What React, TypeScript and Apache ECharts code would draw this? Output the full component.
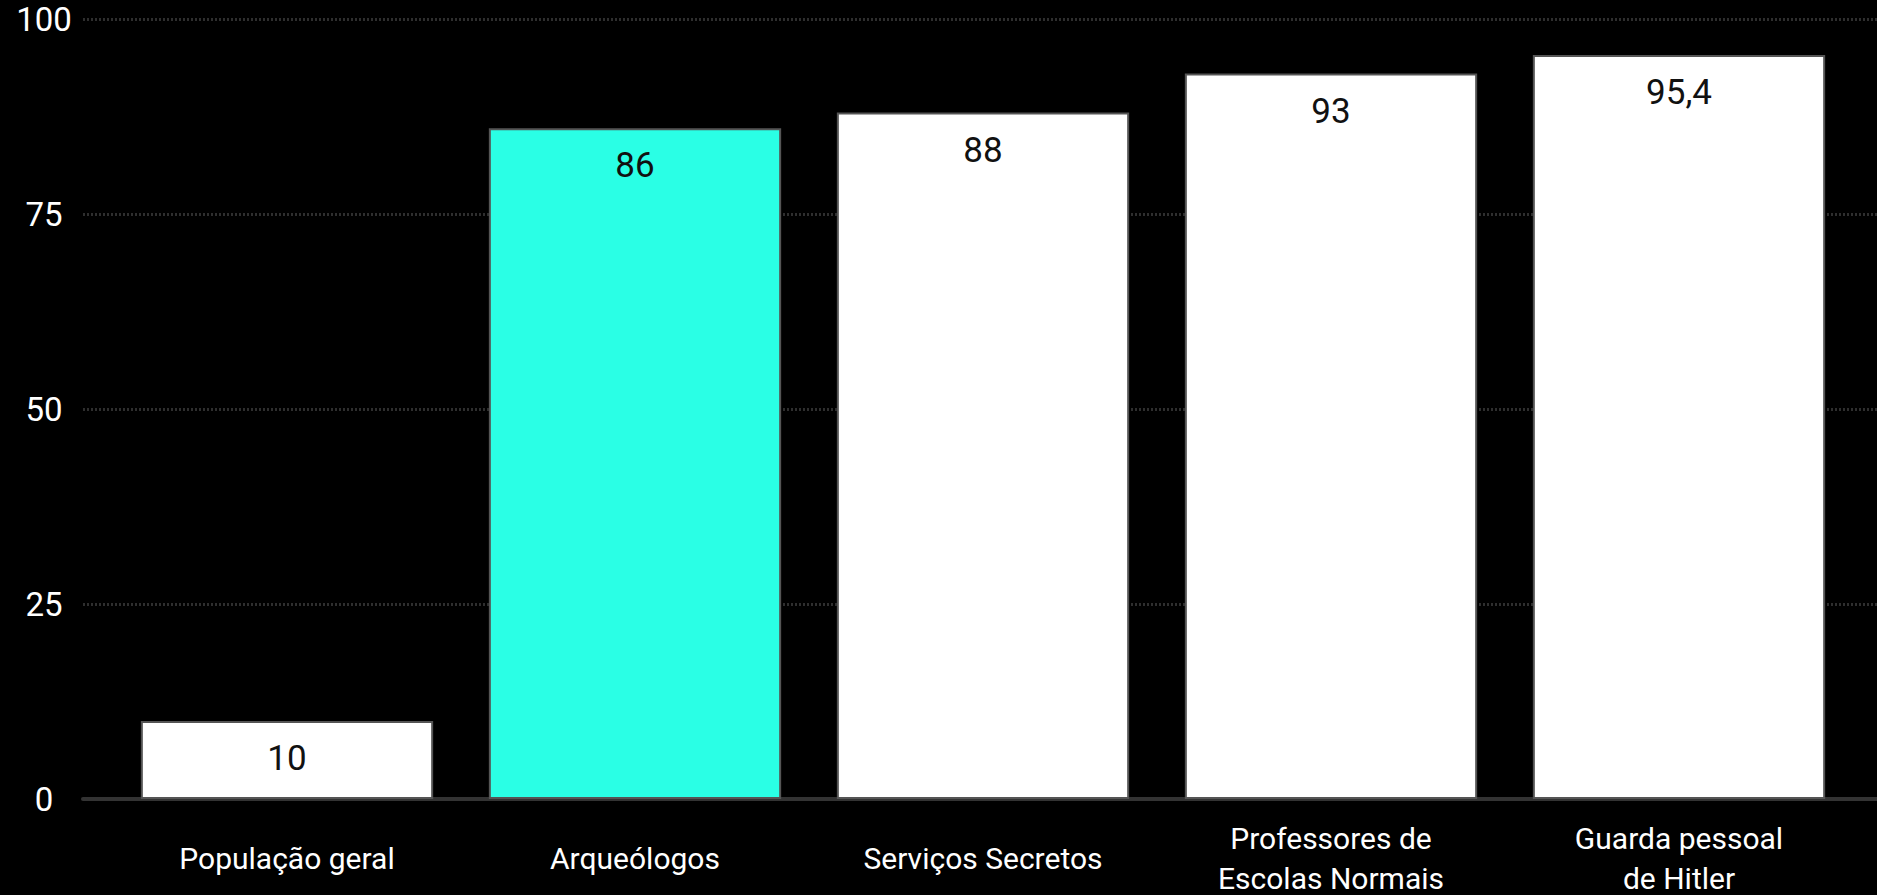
import React, { useEffect, useRef } from "react";
import * as echarts from "echarts";

const categories: string[] = [
  "População geral",
  "Arqueólogos",
  "Serviços Secretos",
  "Professores de\nEscolas Normais",
  "Guarda pessoal\nde Hitler",
];
const values: number[] = [10, 86, 88, 93, 95.4];
const highlightIndex = 1;
const yTicks: number[] = [0, 25, 50, 75, 100];

const FONT = "Roboto, 'Noto Sans', sans-serif";

export default function App() {
  const ref = useRef<HTMLDivElement>(null);
  useEffect(() => {
    document.body.style.margin = "0";
    document.body.style.background = "#000";
    if (!ref.current) return;
    const chart = echarts.init(ref.current, undefined, { renderer: "svg" });
    const top = 19;
    const bottom = 96;
    chart.setOption({
      animation: false,
      backgroundColor: "#000000",
      grid: [
        { left: 83, right: 0, top, bottom, outerBoundsMode: "none", containLabel: false },
        { left: 113, right: 24, top, bottom, outerBoundsMode: "none", containLabel: false },
      ],
      xAxis: [
        {
          gridIndex: 0,
          type: "category",
          data: categories,
          axisLine: { show: true, lineStyle: { color: "#333333", width: 4 } },
          axisTick: { show: false },
          axisLabel: { show: false },
        },
        {
          gridIndex: 1,
          type: "category",
          data: categories,
          axisLine: { show: false },
          axisTick: { show: false },
          axisLabel: {
            color: "#ffffff",
            fontFamily: FONT,
            fontSize: 30,
            lineHeight: 40,
            verticalAlign: "middle",
            margin: 59,
            interval: 0,
          },
        },
      ],
      yAxis: [
        {
          gridIndex: 0,
          type: "value",
          min: yTicks[0],
          max: yTicks[yTicks.length - 1],
          interval: 25,
          axisLine: { show: false },
          axisTick: { show: false },
          splitLine: { show: true, lineStyle: { color: "#2e2e2e", width: 3, type: [2, 2] } },
          axisLabel: {
            color: "#ffffff",
            fontFamily: FONT,
            fontSize: 33,
            lineHeight: 33,
            align: "center",
            verticalAlign: "middle",
            margin: 39,
            padding: [4, 0, 0, 0],
          },
        },
        {
          gridIndex: 1,
          type: "value",
          min: yTicks[0],
          max: yTicks[yTicks.length - 1],
          interval: 25,
          show: false,
          splitLine: { show: false },
        },
      ],
      series: [
        {
          type: "bar",
          xAxisIndex: 1,
          yAxisIndex: 1,
          barCategoryGap: "16%",
          data: values.map((v, i) => ({
            value: v,
            itemStyle: { color: i === highlightIndex ? "#2affe5" : "#ffffff" },
          })),
          itemStyle: { borderColor: "#555555", borderWidth: 2 },
          label: {
            show: true,
            position: "insideTop",
            distance: 20,
            color: "#111111",
            fontFamily: FONT,
            fontSize: 35,
            formatter: (p: any) => String(p.value).replace(".", ","),
          },
        },
      ],
    });
    return () => chart.dispose();
  }, []);
  return <div ref={ref} style={{ width: 1877, height: 895, background: "#000" }} />;
}
